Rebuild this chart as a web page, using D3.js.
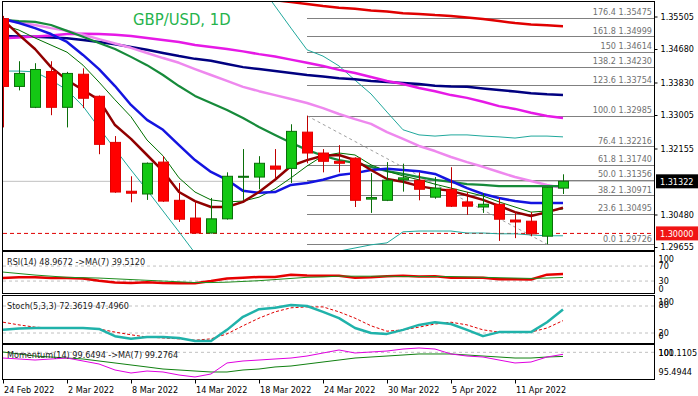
<!DOCTYPE html>
<html>
<head>
<meta charset="utf-8">
<style>
  body { margin: 0; background: #fff; }
  svg text { font-family: "DejaVu Sans Condensed", "DejaVu Sans", sans-serif; font-stretch: condensed; }
</style>
</head>
<body>
<script src="https://d3js.org/d3.v7.min.js"></script>
<script>
// ---- data (daily GBP/USD) ----
const dates = ["2022-02-24","2022-02-25","2022-02-28","2022-03-01","2022-03-02","2022-03-03","2022-03-04","2022-03-07","2022-03-08","2022-03-09","2022-03-10","2022-03-11","2022-03-14","2022-03-15","2022-03-16","2022-03-17","2022-03-18","2022-03-21","2022-03-22","2022-03-23","2022-03-24","2022-03-25","2022-03-28","2022-03-29","2022-03-30","2022-03-31","2022-04-01","2022-04-04","2022-04-05","2022-04-06","2022-04-07","2022-04-08","2022-04-11","2022-04-12","2022-04-13","2022-04-14"];
const open  = [1.3545,1.3373,1.3320,1.3411,1.3320,1.3404,1.3348,1.3231,1.3107,1.3100,1.3181,1.3084,1.3039,1.3001,1.3037,1.3143,1.3143,1.3171,1.3165,1.3257,1.3204,1.3183,1.3191,1.3087,1.3084,1.3136,1.3135,1.3092,1.3112,1.3080,1.3067,1.3074,1.3034,1.3031,1.2993,1.3115];
const high  = [1.3552,1.3437,1.3432,1.3437,1.3410,1.3419,1.3350,1.3247,1.3145,1.3180,1.3196,1.3128,1.3082,1.3090,1.3155,1.3214,1.3196,1.3214,1.3277,1.32985,1.3214,1.3224,1.3193,1.3153,1.3181,1.3177,1.3155,1.3143,1.3168,1.3105,1.3102,1.3090,1.3054,1.3054,1.3117,1.3150];
const low   = [1.3269,1.3363,1.3318,1.3300,1.3269,1.3318,1.3201,1.3103,1.3079,1.3085,1.3080,1.3029,1.3000,1.3000,1.3035,1.3085,1.3112,1.3138,1.3128,1.3178,1.3155,1.3155,1.3067,1.3052,1.3082,1.3106,1.3084,1.3088,1.3067,1.3047,1.3052,1.2981,1.2988,1.2993,1.29726,1.3100];
const close = [1.3373,1.3406,1.3416,1.3320,1.3406,1.3343,1.3226,1.3105,1.3102,1.3178,1.3082,1.3036,1.3001,1.3037,1.3145,1.3145,1.3178,1.3163,1.3259,1.3204,1.3183,1.3178,1.3084,1.3091,1.3135,1.3141,1.3112,1.3115,1.3069,1.3069,1.3074,1.3036,1.3029,1.2999,1.3117,1.31322];

// moving averages / bands on the price chart
const maRed    = [1.3665,1.3660,1.3655,1.3650,1.3645,1.3640,1.3636,1.3632,1.3628,1.3624,1.3620,1.3616,1.3612,1.3608,1.3604,1.3600,1.3596,1.3592,1.3587,1.3582,1.3577,1.3573,1.3570,1.3566,1.3563,1.3559,1.3557,1.3554,1.3552,1.3548,1.3544,1.3539,1.3534,1.3530,1.3528,1.3526];
const maNavy   = [1.3501,1.3500,1.3499,1.3497,1.3495,1.3491,1.3486,1.3480,1.3473,1.3466,1.3458,1.3450,1.3443,1.3438,1.3430,1.3422,1.3417,1.3412,1.3407,1.3402,1.3398,1.3394,1.3391,1.3387,1.3384,1.3382,1.3379,1.3375,1.3373,1.3372,1.3368,1.3364,1.3360,1.3356,1.3353,1.3351];
const maMagenta= [1.3495,1.3497,1.3500,1.3502,1.3506,1.3507,1.3506,1.3504,1.3501,1.3496,1.3491,1.3486,1.3478,1.3473,1.3468,1.3462,1.3455,1.3449,1.3441,1.3433,1.3425,1.3415,1.3407,1.3397,1.3387,1.3379,1.3369,1.3361,1.3351,1.3344,1.3334,1.3323,1.3316,1.3306,1.3298,1.3293];
const maViolet = [1.3542,1.3535,1.3529,1.3521,1.3514,1.3504,1.3493,1.3482,1.3471,1.3458,1.3445,1.3433,1.3417,1.3402,1.3387,1.3372,1.3361,1.3351,1.3341,1.3331,1.3318,1.3303,1.3290,1.3278,1.3257,1.3240,1.3222,1.3209,1.3194,1.3181,1.3169,1.3156,1.3143,1.3133,1.3123,1.3115];
const maGreen  = [1.3542,1.3539,1.3537,1.3529,1.3514,1.3499,1.3483,1.3468,1.3448,1.3427,1.3402,1.3374,1.3349,1.3331,1.3313,1.3293,1.3270,1.3250,1.3230,1.3212,1.3197,1.3186,1.3179,1.3169,1.3158,1.3151,1.3143,1.3136,1.3131,1.3125,1.3123,1.3120,1.3120,1.3120,1.3120,1.3120];
const maBlue   = [1.3544,1.3534,1.3521,1.3506,1.3486,1.3453,1.3417,1.3374,1.3326,1.3288,1.3263,1.3224,1.3186,1.3156,1.3136,1.3108,1.3103,1.3105,1.3123,1.3128,1.3136,1.3148,1.3153,1.3161,1.3164,1.3161,1.3158,1.3151,1.3133,1.3115,1.3100,1.3090,1.3082,1.3077,1.3077,1.3077];
const maMaroon = [1.3542,1.3504,1.3468,1.3422,1.3389,1.3364,1.3339,1.3275,1.3240,1.3199,1.3158,1.3105,1.3082,1.3067,1.3067,1.3080,1.3105,1.3136,1.3171,1.3186,1.3197,1.3199,1.3186,1.3161,1.3138,1.3131,1.3120,1.3113,1.3108,1.3097,1.3085,1.3070,1.3054,1.3044,1.3054,1.3065];
const maThin   = [1.3529,1.3516,1.3496,1.3478,1.3460,1.3427,1.3384,1.3339,1.3296,1.3237,1.3197,1.3141,1.3105,1.3085,1.3080,1.3082,1.3092,1.3113,1.3141,1.3171,1.3197,1.3204,1.3199,1.3174,1.3158,1.3146,1.3136,1.3125,1.3115,1.3105,1.3095,1.3080,1.3067,1.3054,1.3057,1.3062];
const bandUp   = [null,null,null,null,null,null,null,null,null,null,null,null,null,null,null,null,1.3633,1.3577,1.3521,1.3466,1.3450,1.3425,1.3389,1.3354,1.3308,1.3263,1.3250,1.3247,1.3250,1.3250,1.3247,1.3245,1.3242,1.3247,1.3247,1.3245];
const bandDn   = [1.3412,1.3412,1.3410,1.3389,1.3364,1.3323,1.3268,1.3214,1.3161,1.3110,1.3057,1.3004,1.2950,1.2943,1.2927,1.2917,1.2912,1.2912,1.2917,1.2930,1.2942,1.2955,1.2963,1.2971,1.2976,1.3004,1.3006,1.3006,1.3006,1.3001,1.3001,1.2999,1.2999,1.2996,1.2994,1.2994];

// fibonacci retracement Mar 23 high -> Apr 13 low
const fibStart = 19, fibEnd = 34;
const fibNames  = ["0.0","23.6","38.2","50.0","61.8","76.4","100.0","123.6","138.2","150","161.8","176.4"];
const fibPrices = [1.29726,1.30495,1.30971,1.31356,1.31740,1.32216,1.32985,1.33754,1.34230,1.34614,1.34999,1.35475];

const priceTicks = [1.35505,1.34680,1.33830,1.33005,1.32155,1.30480,1.29655];
const levelPrice = 1.30000;

// indicators
const rsi     = [38,40,40,38,38,37,31,26,25,27,25,24,24,30,37,39,41,41,47,45,44,44,39,40,43,44,42,43,39,39,39,35,35,34,47,48.97];
const rsiMA   = [54,50,46,43,40,39,38,36,34,32,30,28,26,26,27,29,31,34,37,40,41,43,43,43,43,42,42,42,42,41,40,39,38,37,38,39.51];
const stochK  = [27,30,31,31,31,31,29,13,7,11,11,9,2,2,27,56,73,76,82,80,67,53,31,20,18,27,38,44,40,27,13,22,22,22,44,72.36];
const stochD  = [44,38,33,31,31,31,29,22,16,11,9,7,4,7,18,36,53,67,76,78,78,67,53,36,24,27,33,40,44,38,27,22,22,22,31,47.50];
const mom     = [99.00,98.83,98.65,98.83,99.00,98.48,97.95,96.90,96.37,96.72,96.55,96.02,95.67,96.20,98.13,98.48,98.65,98.83,99.00,99.35,99.88,100.41,99.88,100.06,100.23,100.58,100.76,100.58,99.71,99.35,99.18,98.65,98.13,98.30,99.18,99.65];
const momMA   = [100.06,99.71,99.35,99.18,99.00,98.83,98.48,98.13,97.78,97.43,97.07,96.90,96.72,96.55,96.55,96.90,97.07,97.43,97.60,97.95,98.30,98.65,99.00,99.18,99.35,99.53,99.71,99.71,99.71,99.53,99.35,99.18,99.00,99.00,99.18,99.28];

// ---- layout ----
const W = 698, H = 396;
const left = 3, right = 654;
const panes = { main: [2, 250], rsi: [252, 293], stoch: [296, 343], mom: [345, 379] };

const svg = d3.select("body").append("svg")
  .attr("width", W).attr("height", H)
  .style("font-size", "9px");

const defs = svg.append("defs");
Object.entries(panes).forEach(([k, [t, b]]) => {
  defs.append("clipPath").attr("id", "clip-" + k).append("rect")
    .attr("x", left).attr("y", t).attr("width", right - left).attr("height", b - t);
});

const x = d3.scaleLinear().domain([0, 35]).range([3, 563]);
const y = d3.scaleLinear().domain([1.35505, 1.29655]).range([16.5, 247]);
const yRsi = d3.scaleLinear().domain([0, 100]).range([292.3, 254.8]);
const yStoch = d3.scaleLinear().domain([0, 100]).range([342, 297]);
const yMom = d3.scaleLinear().domain([95.4944, 101.1105]).range([378, 346]);

function drawLine(g, values, ys, color, width, dash) {
  const line = d3.line()
    .defined(d => d != null)
    .x((d, i) => x(i))
    .y(d => ys(d));
  g.append("path")
    .attr("d", line(values))
    .attr("fill", "none")
    .attr("stroke", color)
    .attr("stroke-width", width)
    .attr("stroke-dasharray", dash || null)
    .attr("stroke-linejoin", "round");
}

// ---- main chart ----
const main = svg.append("g").attr("clip-path", "url(#clip-main)");

main.append("line")
  .attr("x1", left).attr("x2", right)
  .attr("y1", y(close[close.length - 1])).attr("y2", y(close[close.length - 1]))
  .attr("stroke", "#c0c0c0");

main.append("line")
  .attr("x1", left).attr("x2", right)
  .attr("y1", y(levelPrice)).attr("y2", y(levelPrice))
  .attr("stroke", "#e00000").attr("stroke-dasharray", "4,3");

main.selectAll(".fib")
  .data(fibPrices)
  .join("line")
  .attr("x1", x(fibStart)).attr("x2", right)
  .attr("y1", d => Math.round(y(d)) + 0.5).attr("y2", d => Math.round(y(d)) + 0.5)
  .attr("stroke", "#808080");

main.append("line")
  .attr("x1", x(fibStart)).attr("y1", y(high[fibStart]))
  .attr("x2", x(fibEnd)).attr("y2", y(low[fibEnd]))
  .attr("stroke", "#a0a0a0").attr("stroke-dasharray", "3,3");

drawLine(main, bandUp, y, "#20a89c", 1);
drawLine(main, bandDn, y, "#20a89c", 1);
drawLine(main, maRed, y, "#e00000", 2.5);
drawLine(main, maNavy, y, "#000080", 2.5);
drawLine(main, maMagenta, y, "#e619e6", 2.5);
drawLine(main, maViolet, y, "#ee88ee", 2.5);
drawLine(main, maGreen, y, "#168a3a", 2.2);
drawLine(main, maThin, y, "#007000", 1);
drawLine(main, maBlue, y, "#1414e0", 2.5);
drawLine(main, maMaroon, y, "#900000", 2.5);

// candles
const candles = main.selectAll(".candle")
  .data(d3.range(dates.length))
  .join("g");

candles.append("line")
  .attr("x1", i => x(i) + 0.5).attr("x2", i => x(i) + 0.5)
  .attr("y1", i => y(high[i])).attr("y2", i => y(low[i]))
  .attr("stroke", i => close[i] >= open[i] ? "#0a6e0a" : "#c00000");

candles.append("rect")
  .attr("x", i => x(i) - 4.5)
  .attr("width", 10)
  .attr("y", i => y(Math.max(open[i], close[i])))
  .attr("height", i => Math.max(1, Math.abs(y(open[i]) - y(close[i]))))
  .attr("fill", i => close[i] >= open[i] ? "#14c814" : "#ff0000")
  .attr("stroke", i => close[i] >= open[i] ? "#0a6e0a" : "#e00000")
  .attr("stroke-width", 1);

// fib labels
svg.selectAll(".fibLabel")
  .data(fibPrices)
  .join("text")
  .attr("x", right - 2)
  .attr("y", d => y(d) - 2.5)
  .attr("text-anchor", "end")
  .attr("fill", "#707070")
  .text((d, i) => fibNames[i] + " " + d3.format(".5f")(d));

svg.append("text")
  .attr("x", 133).attr("y", 25)
  .attr("fill", "#25b34c")
  .style("font-size", "16.5px")
  .text("GBP/USD, 1D");

// ---- RSI ----
const rsiG = svg.append("g").attr("clip-path", "url(#clip-rsi)");
[70, 30].forEach(v => rsiG.append("line")
  .attr("x1", left).attr("x2", right).attr("y1", yRsi(v)).attr("y2", yRsi(v))
  .attr("stroke", "#c0c0c0").attr("stroke-dasharray", "3,3"));
drawLine(rsiG, rsi, yRsi, "#e60000", 2.5);
drawLine(rsiG, rsiMA, yRsi, "#1e8c1e", 1);

// ---- Stochastic ----
const stG = svg.append("g").attr("clip-path", "url(#clip-stoch)");
[80, 20].forEach(v => stG.append("line")
  .attr("x1", left).attr("x2", right).attr("y1", yStoch(v)).attr("y2", yStoch(v))
  .attr("stroke", "#c0c0c0").attr("stroke-dasharray", "3,3"));
drawLine(stG, stochD, yStoch, "#e00000", 1, "3,2");
drawLine(stG, stochK, yStoch, "#20b2aa", 2.5);

// ---- Momentum ----
const mG = svg.append("g").attr("clip-path", "url(#clip-mom)");
mG.append("line")
  .attr("x1", left).attr("x2", right).attr("y1", yMom(100)).attr("y2", yMom(100))
  .attr("stroke", "#c0c0c0").attr("stroke-dasharray", "3,3");
drawLine(mG, momMA, yMom, "#108010", 1);
drawLine(mG, mom, yMom, "#e000e0", 1);

// panel captions
const captions = [
  ["RSI(14) 48.9672  ->MA(7) 39.5120", 265],
  ["Stoch(5,3,3) 72.3619 47.4960", 309],
  ["Momentum(14) 99.6494  ->MA(7) 99.2764", 358]
];
svg.selectAll(".cap")
  .data(captions)
  .join("text")
  .attr("x", 7).attr("y", d => d[1])
  .attr("fill", "#202020")
  .text(d => d[0]);

// frames
Object.values(panes).forEach(([t, b]) => {
  svg.append("rect")
    .attr("x", left - 0.5).attr("y", t - 0.5)
    .attr("width", right - left + 1).attr("height", b - t + 1)
    .attr("fill", "none").attr("stroke", "#000");
});

// ---- axes ----
const priceAxis = svg.append("g")
  .attr("transform", `translate(${right + 0.5},0)`)
  .call(d3.axisRight(y).tickValues(priceTicks).tickSize(3).tickPadding(3).tickFormat(d3.format(".5f")));
priceAxis.select(".domain").remove();
priceAxis.selectAll("text").style("font-size", "9px").attr("fill", "#000");

function tagLabel(price, bg) {
  const yy = y(price);
  svg.append("rect").attr("x", right + 2).attr("y", yy - 7).attr("width", W - right - 2).attr("height", 14).attr("fill", bg);
  svg.append("text").attr("x", right + 6).attr("y", yy + 3.5).attr("fill", "#fff").text(d3.format(".5f")(price));
}
tagLabel(close[close.length - 1], "#000");
tagLabel(levelPrice, "#f01414");

function sideAxis(scale, vals, fmt, shift) {
  const g = svg.append("g")
    .attr("transform", `translate(${right + 0.5},0)`)
    .call(d3.axisRight(scale).tickValues(vals).tickSize(0).tickPadding(4).tickFormat(fmt));
  g.select(".domain").remove();
  g.selectAll("text").attr("fill", "#000").style("font-size", "9px")
    .attr("transform", (d, i) => `translate(0,${shift[i]})`);
}
sideAxis(yRsi, [100, 70, 30, 0], d3.format("d"), [4, 0, 0, -4]);
sideAxis(yStoch, [100, 80, 20, 0], d3.format("d"), [5, -1, 0, -6]);
sideAxis(yMom, [101.1105, 100, 95.4944], d => d === 100 ? "100" : d3.format(".4f")(d), [7, 0, -6]);

const fmtDate = d3.timeFormat("%-d %b %Y");
const parse = d3.timeParse("%Y-%m-%d");
const dateAxis = svg.append("g")
  .attr("transform", `translate(0,${panes.mom[1] + 0.5})`)
  .call(d3.axisBottom(x).tickValues(d3.range(0, dates.length, 4)).tickSize(4).tickPadding(3)
    .tickFormat(i => fmtDate(parse(dates[i]))));
dateAxis.select(".domain").remove();
dateAxis.selectAll("text").attr("text-anchor", "start").attr("dx", "0.5").attr("fill", "#000").style("font-size", "9px");
</script>
</body>
</html>
